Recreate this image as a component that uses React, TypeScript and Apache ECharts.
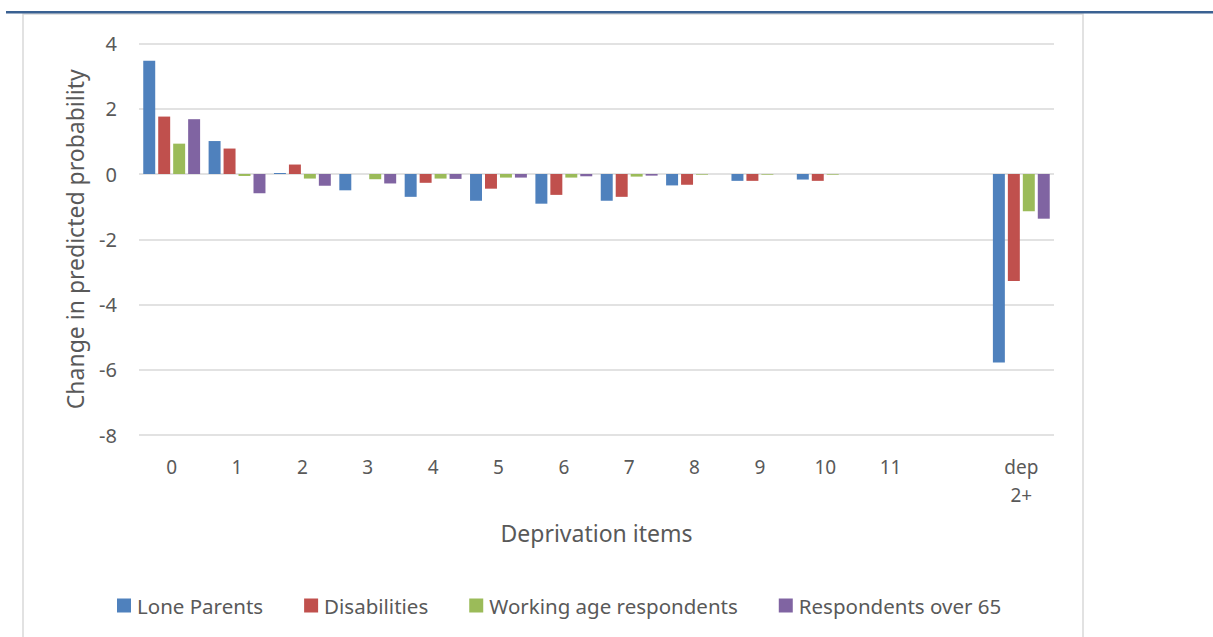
import React, { useEffect, useRef } from "react";
import * as echarts from "echarts";

const categories = ["0", "1", "2", "3", "4", "5", "6", "7", "8", "9", "10", "11", "", "dep\n2+"];
const seriesNames = ["Lone Parents", "Disabilities", "Working age respondents", "Respondents over 65"];
const loneParents = [3.47, 1.01, 0.03, -0.5, -0.7, -0.82, -0.91, -0.82, -0.35, -0.21, -0.17, 0, null, -5.78];
const disabilities = [1.76, 0.78, 0.29, 0, -0.27, -0.45, -0.64, -0.7, -0.33, -0.21, -0.21, 0, null, -3.28];
const workingAge = [0.93, -0.06, -0.14, -0.16, -0.14, -0.11, -0.11, -0.08, -0.02, -0.02, -0.02, 0, null, -1.14];
const over65 = [1.68, -0.59, -0.36, -0.29, -0.15, -0.11, -0.07, -0.05, 0, 0, 0, 0, null, -1.37];
const yTicks = { min: -8, max: 4, interval: 2 };
const colors = ["#4F81BD", "#C0504D", "#9BBB59", "#8064A2"];

const FONT = "'Noto Sans', 'Open Sans', sans-serif";
const TEXT = "#595959";

export default function App() {
  const ref = useRef<HTMLDivElement>(null);
  useEffect(() => {
    if (!ref.current) return;
    const chart = echarts.init(ref.current, undefined, { renderer: "svg" });
    const values = [loneParents, disabilities, workingAge, over65];
    chart.setOption({
      animation: false,
      backgroundColor: "#ffffff",
      textStyle: { fontFamily: FONT },
      graphic: [
        { type: "rect", shape: { x: 6, y: 11, width: 1207, height: 2.5 }, style: { fill: "#3A6192" }, z: 10 },
        { type: "rect", shape: { x: 23, y: 14, width: 1060, height: 640 }, style: { fill: "none", stroke: "#D9D9D9", lineWidth: 1.5 }, z: -10 },
      ],
      legend: {
        data: seriesNames,
        left: 112,
        top: 590,
        itemWidth: 14,
        itemHeight: 14,
        itemGap: 41,
        icon: "rect",
        textStyle: { fontSize: 20.5, color: TEXT, fontFamily: FONT, padding: [0, 0, 0, 1] },
      },
      grid: { left: 139, right: 159, top: 43.5, bottom: 202, outerBoundsMode: "none" },
      xAxis: {
        type: "category",
        data: categories,
        axisLine: { show: false },
        axisTick: { show: false },
        axisLabel: { fontSize: 19, color: TEXT, fontFamily: FONT, margin: 18, lineHeight: 28, interval: 0 },
        name: "Deprivation items",
        nameLocation: "middle",
        nameGap: 86,
        nameTextStyle: { fontSize: 23, color: TEXT, fontFamily: FONT },
      },
      yAxis: {
        type: "value",
        min: yTicks.min,
        max: yTicks.max,
        interval: yTicks.interval,
        axisLine: { show: false },
        axisTick: { show: false },
        splitLine: { lineStyle: { color: "#D9D9D9", width: 1.5 } },
        axisLabel: { fontSize: 20, color: TEXT, fontFamily: FONT, margin: 22 },
        name: "Change in predicted probability",
        nameLocation: "middle",
        nameGap: 64,
        nameRotate: 90,
        nameTextStyle: { fontSize: 23, color: TEXT, fontFamily: FONT, verticalAlign: "middle" },
      },
      series: seriesNames.map((name, i) => ({
        name,
        type: "bar",
        data: values[i],
        itemStyle: { color: colors[i] },
        barCategoryGap: "13%",
        barGap: "25%",
      })),
    });
    return () => chart.dispose();
  }, []);
  return (
    <div
      ref={ref}
      style={{ position: "fixed", left: 0, top: 0, width: 1213, height: 637 }}
    />
  );
}
